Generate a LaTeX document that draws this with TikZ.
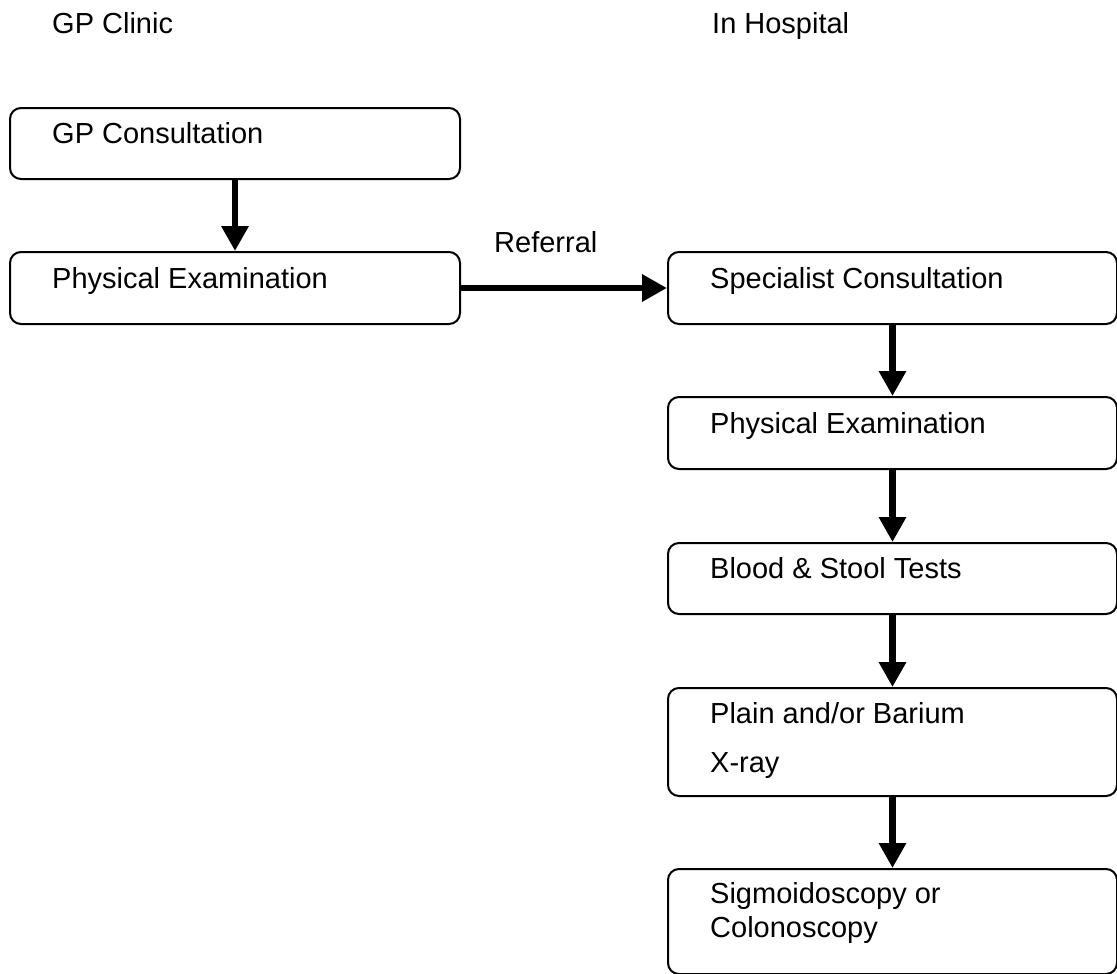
\documentclass[tikz,border=0pt]{standalone}
\usepackage{fontspec}
\setmainfont{Liberation Sans}
\usetikzlibrary{arrows.meta,calc}

\begin{document}
\begin{tikzpicture}[x=1pt,y=-1pt,
  stepbox/.style={draw, line width=2pt, rounded corners=11pt,
    minimum width=450pt, inner sep=0pt, anchor=north west},
  txt/.style={anchor=base west, inner sep=0pt,
    font=\fontsize{29}{34}\selectfont},
  conn/.style={line width=6.5pt, -{Triangle[width=26pt,length=25pt]}}]
\useasboundingbox (0,0) rectangle (1117,974);

% column headings
\node[txt] (hgp) at (52,34) {GP Clinic};
\node[txt] (hhosp) at (712,34) {In Hospital};

% GP clinic steps
\node[stepbox, minimum height=71pt] (gpc) at (9,107) {};
\node[stepbox, minimum height=72pt] (pel) at (9,251) {};

% hospital steps
\node[stepbox, minimum height=72pt, minimum width=449pt] (spc) at (667,251) {};
\node[stepbox, minimum height=72pt, minimum width=449pt] (per) at (667,396) {};
\node[stepbox, minimum height=71pt, minimum width=449pt] (bst) at (667,542) {};
\node[stepbox, minimum height=108pt, minimum width=449pt] (xr) at (667,687) {};
\node[stepbox, minimum height=105pt, minimum width=449pt] (sig) at (667,868) {};

% step texts
\node[txt] (tgpc) at ($(gpc.north west)+(43,36)$) {GP Consultation};
\node[txt] (tpel) at ($(pel.north west)+(43,37)$) {Physical Examination};
\node[txt] (tspc) at ($(spc.north west)+(43,37)$) {Specialist Consultation};
\node[txt] (tper) at ($(per.north west)+(43,37)$) {Physical Examination};
\node[txt] (tbst) at ($(bst.north west)+(43,36)$) {Blood \& Stool Tests};
\node[txt] (txr1) at ($(xr.north west)+(43,36)$) {Plain and/or Barium};
\node[txt] (txr2) at ($(xr.north west)+(43,85)$) {X-ray};
\node[txt] (tsig1) at ($(sig.north west)+(43,35)$) {Sigmoidoscopy or};
\node[txt] (tsig2) at ($(sig.north west)+(43,69)$) {Colonoscopy};

% connectors
\draw[conn] (gpc.south) -- (pel.north);
\draw[conn] (pel.east) -- (spc.west);
\node[txt] (lref) at (494,252) {Referral};
\draw[conn] (spc.south) -- (per.north);
\draw[conn] (per.south) -- (bst.north);
\draw[conn] (bst.south) -- (xr.north);
\draw[conn] (xr.south) -- (sig.north);
\end{tikzpicture}
\end{document}
